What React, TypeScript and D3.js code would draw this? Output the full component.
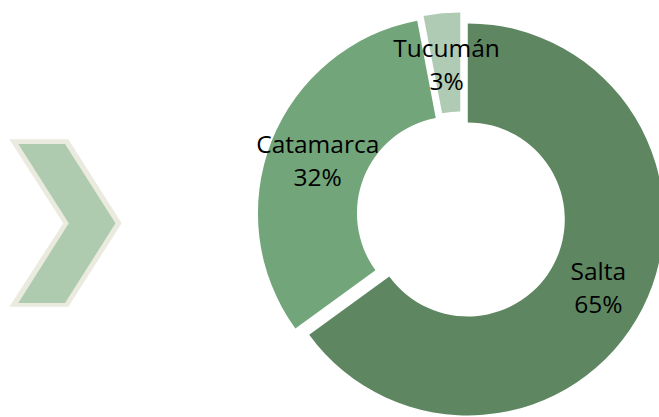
import React from "react";
import * as d3 from "d3";

const provinces = ["Salta", "Catamarca", "Tucumán"];
const shares = [65, 32, 3];
const sliceColors = ["#5e8761", "#72a57a", "#b0cbb3"];

const width = 659;
const height = 417;
const center = { x: 461, y: 216 };
const outerRadius = 196;
const innerRadius = 97;
const explode = 7.6;

export default function App() {
  const data = provinces.map((name, i) => ({ name, value: shares[i], color: sliceColors[i] }));

  const pie = d3
    .pie<{ name: string; value: number; color: string }>()
    .sort(null)
    .value((d) => d.value);

  const arc = d3
    .arc<d3.PieArcDatum<{ name: string; value: number; color: string }>>()
    .innerRadius(innerRadius)
    .outerRadius(outerRadius);

  const arcs = pie(data);
  const labelRadius = (innerRadius + outerRadius) / 2;

  return (
    <svg
      width={width}
      height={height}
      style={{ position: "absolute", left: 0, top: 0, background: "#fff" }}
    >
      {/* chevron decoration */}
      <polygon
        points="9.3,139.3 68.3,139.3 121.7,223.3 68.3,306.7 9.3,306.7 63.3,223.3"
        fill="#ebeadf"
      />
      <polygon
        points="18.3,144 65,144 115.5,223.3 65,303 18.3,303 68.8,223.3"
        fill="#aecbb0"
      />

      <g transform={`translate(${center.x},${center.y})`}>
        {arcs.map((a) => {
          const mid = (a.startAngle + a.endAngle) / 2;
          const ox = explode * Math.sin(mid);
          const oy = -explode * Math.cos(mid);
          const lx = ox + labelRadius * Math.sin(mid);
          const ly = oy - labelRadius * Math.cos(mid);
          return (
            <g key={a.data.name}>
              <path d={arc(a) || ""} transform={`translate(${ox},${oy})`} fill={a.data.color} />
              <text
                x={lx}
                y={ly}
                textAnchor="middle"
                fontFamily="'Open Sans', sans-serif"
                fontSize={24.5}
                fill="#000"
              >
                <tspan x={lx} y={ly - 6}>{a.data.name}</tspan>
                <tspan x={lx} y={ly + 27}>{`${a.data.value}%`}</tspan>
              </text>
            </g>
          );
        })}
      </g>
    </svg>
  );
}
